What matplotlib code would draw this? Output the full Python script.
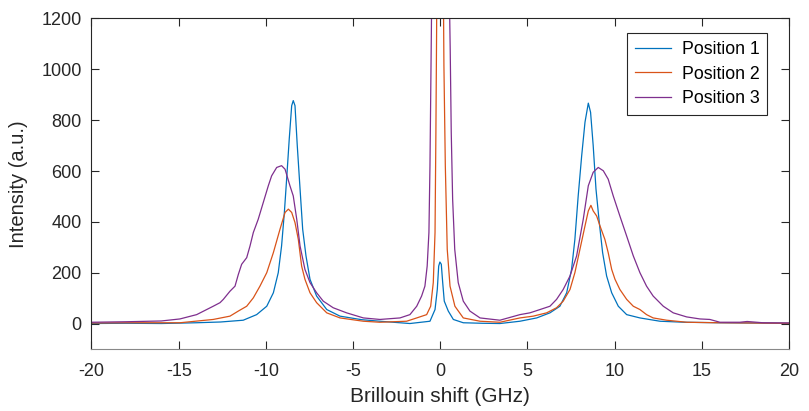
import matplotlib
matplotlib.use("Agg")
from matplotlib import pyplot as plt

# Position 1
x1 = [-20, -18, -16, -14, -12.6, -11.30, -10.53, -9.95, -9.57, -9.29, -9.10, -8.94, -8.81, -8.66,
      -8.52, -8.43, -8.33, -8.20, -8.04, -7.89, -7.70, -7.47, -7.09, -6.51, -5.75, -4.5, -3.46,
      -1.74, -0.59, -0.30, -0.17, -0.09, -0.02, 0.06, 0.14, 0.23, 0.46, 0.75, 1.32, 2.4, 3.42,
      4.57, 5.53, 6.29, 6.86, 7.25, 7.53, 7.72, 7.91, 8.11, 8.30, 8.49, 8.62, 8.77, 8.93, 9.12,
      9.31, 9.54, 9.83, 10.21, 10.69, 11.45, 12.60, 14, 16.04, 18, 20]
y1 = [0, 1, 0, 3, 6, 13, 35, 68, 121, 200, 305, 437, 568, 726,
      857, 877, 857, 700, 529, 371, 266, 174, 108, 55, 29, 15, 9,
      0, 9, 55, 134, 226, 242, 233, 161, 88, 49, 16, 3, 1, 0,
      9, 22, 42, 68, 121, 213, 331, 502, 660, 792, 867, 831, 700, 529, 397,
      279, 187, 121, 68, 35, 22, 9, 5, 3, 2, 1]

# Position 2
x2 = [-20, -18, -16, -14.93, -13.02, -12.06, -11.58, -11.10, -10.72, -10.34, -9.95, -9.57, -9.19,
      -8.90, -8.71, -8.52, -8.33, -8.14, -7.95, -7.76, -7.47, -7.09, -6.51, -5.75, -4.41, -3.46,
      -1.93, -1.35, -0.78, -0.55, -0.40, -0.30, -0.25, -0.21, -0.12, 0.0, 0.10, 0.17, 0.21, 0.29,
      0.40, 0.56, 0.84, 1.32, 2.28, 3.42, 4.57, 5.33, 6.10, 6.67, 7.05, 7.44, 7.72, 8.01, 8.30,
      8.49, 8.64, 8.77, 8.97, 9.16, 9.44, 9.63, 9.83, 10.02, 10.30, 10.69, 11.07, 11.45, 11.83,
      12.21, 12.98, 14.13, 16.04, 18, 20]
y2 = [2, 3, 3, 3, 16, 29, 49, 68, 101, 147, 200, 279, 371,
      437, 450, 437, 397, 331, 226, 174, 121, 82, 42, 22, 9, 5,
      9, 22, 35, 68, 161, 358, 752, 1147, 2500, 4000, 2500, 1400, 1015, 621,
      292, 147, 68, 22, 9, 5, 22, 29, 42, 62, 88, 134, 200, 292, 384,
      443, 465, 443, 423, 384, 331, 279, 213, 174, 134, 95, 68, 55, 35,
      22, 13, 5, 3, 2, 1]

# Position 3
x3 = [-20, -18, -16, -14.93, -13.97, -13.02, -12.63, -12.44, -12.06, -11.77, -11.58, -11.39, -11.10,
      -10.91, -10.72, -10.44, -10.15, -9.86, -9.67, -9.38, -9.10, -8.90, -8.62, -8.43, -8.23, -8.04,
      -7.76, -7.47, -7.09, -6.71, -6.14, -5.37, -4.41, -3.46, -2.31, -1.74, -1.35, -1.07, -0.88,
      -0.75, -0.65, -0.59, -0.55, -0.51, -0.4, -0.2, 0.0, 0.2, 0.4, 0.52, 0.57, 0.63, 0.71, 0.83,
      1.03, 1.32, 1.70, 2.28, 3.42, 4.57, 5.14, 5.72, 6.29, 6.67, 7.05, 7.44, 7.82, 8.20, 8.49,
      8.77, 9.06, 9.35, 9.63, 9.92, 10.30, 10.69, 11.07, 11.45, 11.83, 12.21, 12.79, 13.36, 14.13,
      14.89, 15.46, 16.04, 17.18, 17.6, 18.5, 20]
y3 = [5, 7, 10, 18, 35, 68, 82, 95, 127, 147, 193, 233, 259,
      305, 358, 410, 476, 542, 581, 614, 621, 607, 542, 502, 410, 305,
      213, 161, 121, 88, 62, 42, 22, 16, 22, 35, 68, 108, 147,
      226, 358, 621, 884, 1147, 2000, 3500, 5000, 3500, 2000, 1300, 1081, 752, 489, 292,
      161, 88, 49, 22, 13, 35, 42, 55, 68, 95, 134, 187, 266, 410, 542,
      595, 614, 601, 568, 502, 423, 344, 266, 200, 147, 108, 68, 42, 26,
      18, 16, 5, 5, 8, 3, 2]

labels = ["Position 1", "Position 2", "Position 3"]
colors = ["#0072BD", "#D95319", "#7E2F8E"]
xticks = [-20, -15, -10, -5, 0, 5, 10, 15, 20]
yticks = [0, 200, 400, 600, 800, 1000, 1200]

plt.rcParams['font.family'] = ['Liberation Sans', 'DejaVu Sans']
plt.rcParams['axes.unicode_minus'] = False
fig = plt.figure(figsize=(8.09, 4.11), dpi=100)
ax = fig.add_axes([0.1131, 0.151, 0.8622, 0.804])

for xs, ys, c, lab in zip([x1, x2, x3], [y1, y2, y3], colors, labels):
    ax.plot(xs, ys, color=c, linewidth=0.9, label=lab)

ax.set_xlim(-20, 20)
ax.set_ylim(-100, 1200)
ax.set_xticks(xticks)
ax.set_yticks(yticks)
ax.tick_params(direction='in', length=6, width=0.8, top=True, right=True,
               labelsize=13, colors='#262626')
ax.tick_params(axis='x', pad=10)
ax.tick_params(axis='y', pad=7)
for s in ax.spines.values():
    s.set_color('#262626')
    s.set_linewidth(0.8)
ax.spines['bottom'].set_color('#888888')
ax.set_xlabel("Brillouin shift (GHz)", fontsize=15, color='#262626', labelpad=5)
ax.set_ylabel("Intensity (a.u.)", fontsize=14.5, color='#262626', labelpad=10)

leg = ax.legend(loc='upper right', bbox_to_anchor=(0.969, 0.956), borderaxespad=0,
                fontsize=12.8, fancybox=False, framealpha=1, edgecolor='#262626',
                handlelength=2.0, handletextpad=0.6, borderpad=0.45, labelspacing=0.42)
leg.get_frame().set_linewidth(0.8)

plt.savefig("out.png", dpi=100)
